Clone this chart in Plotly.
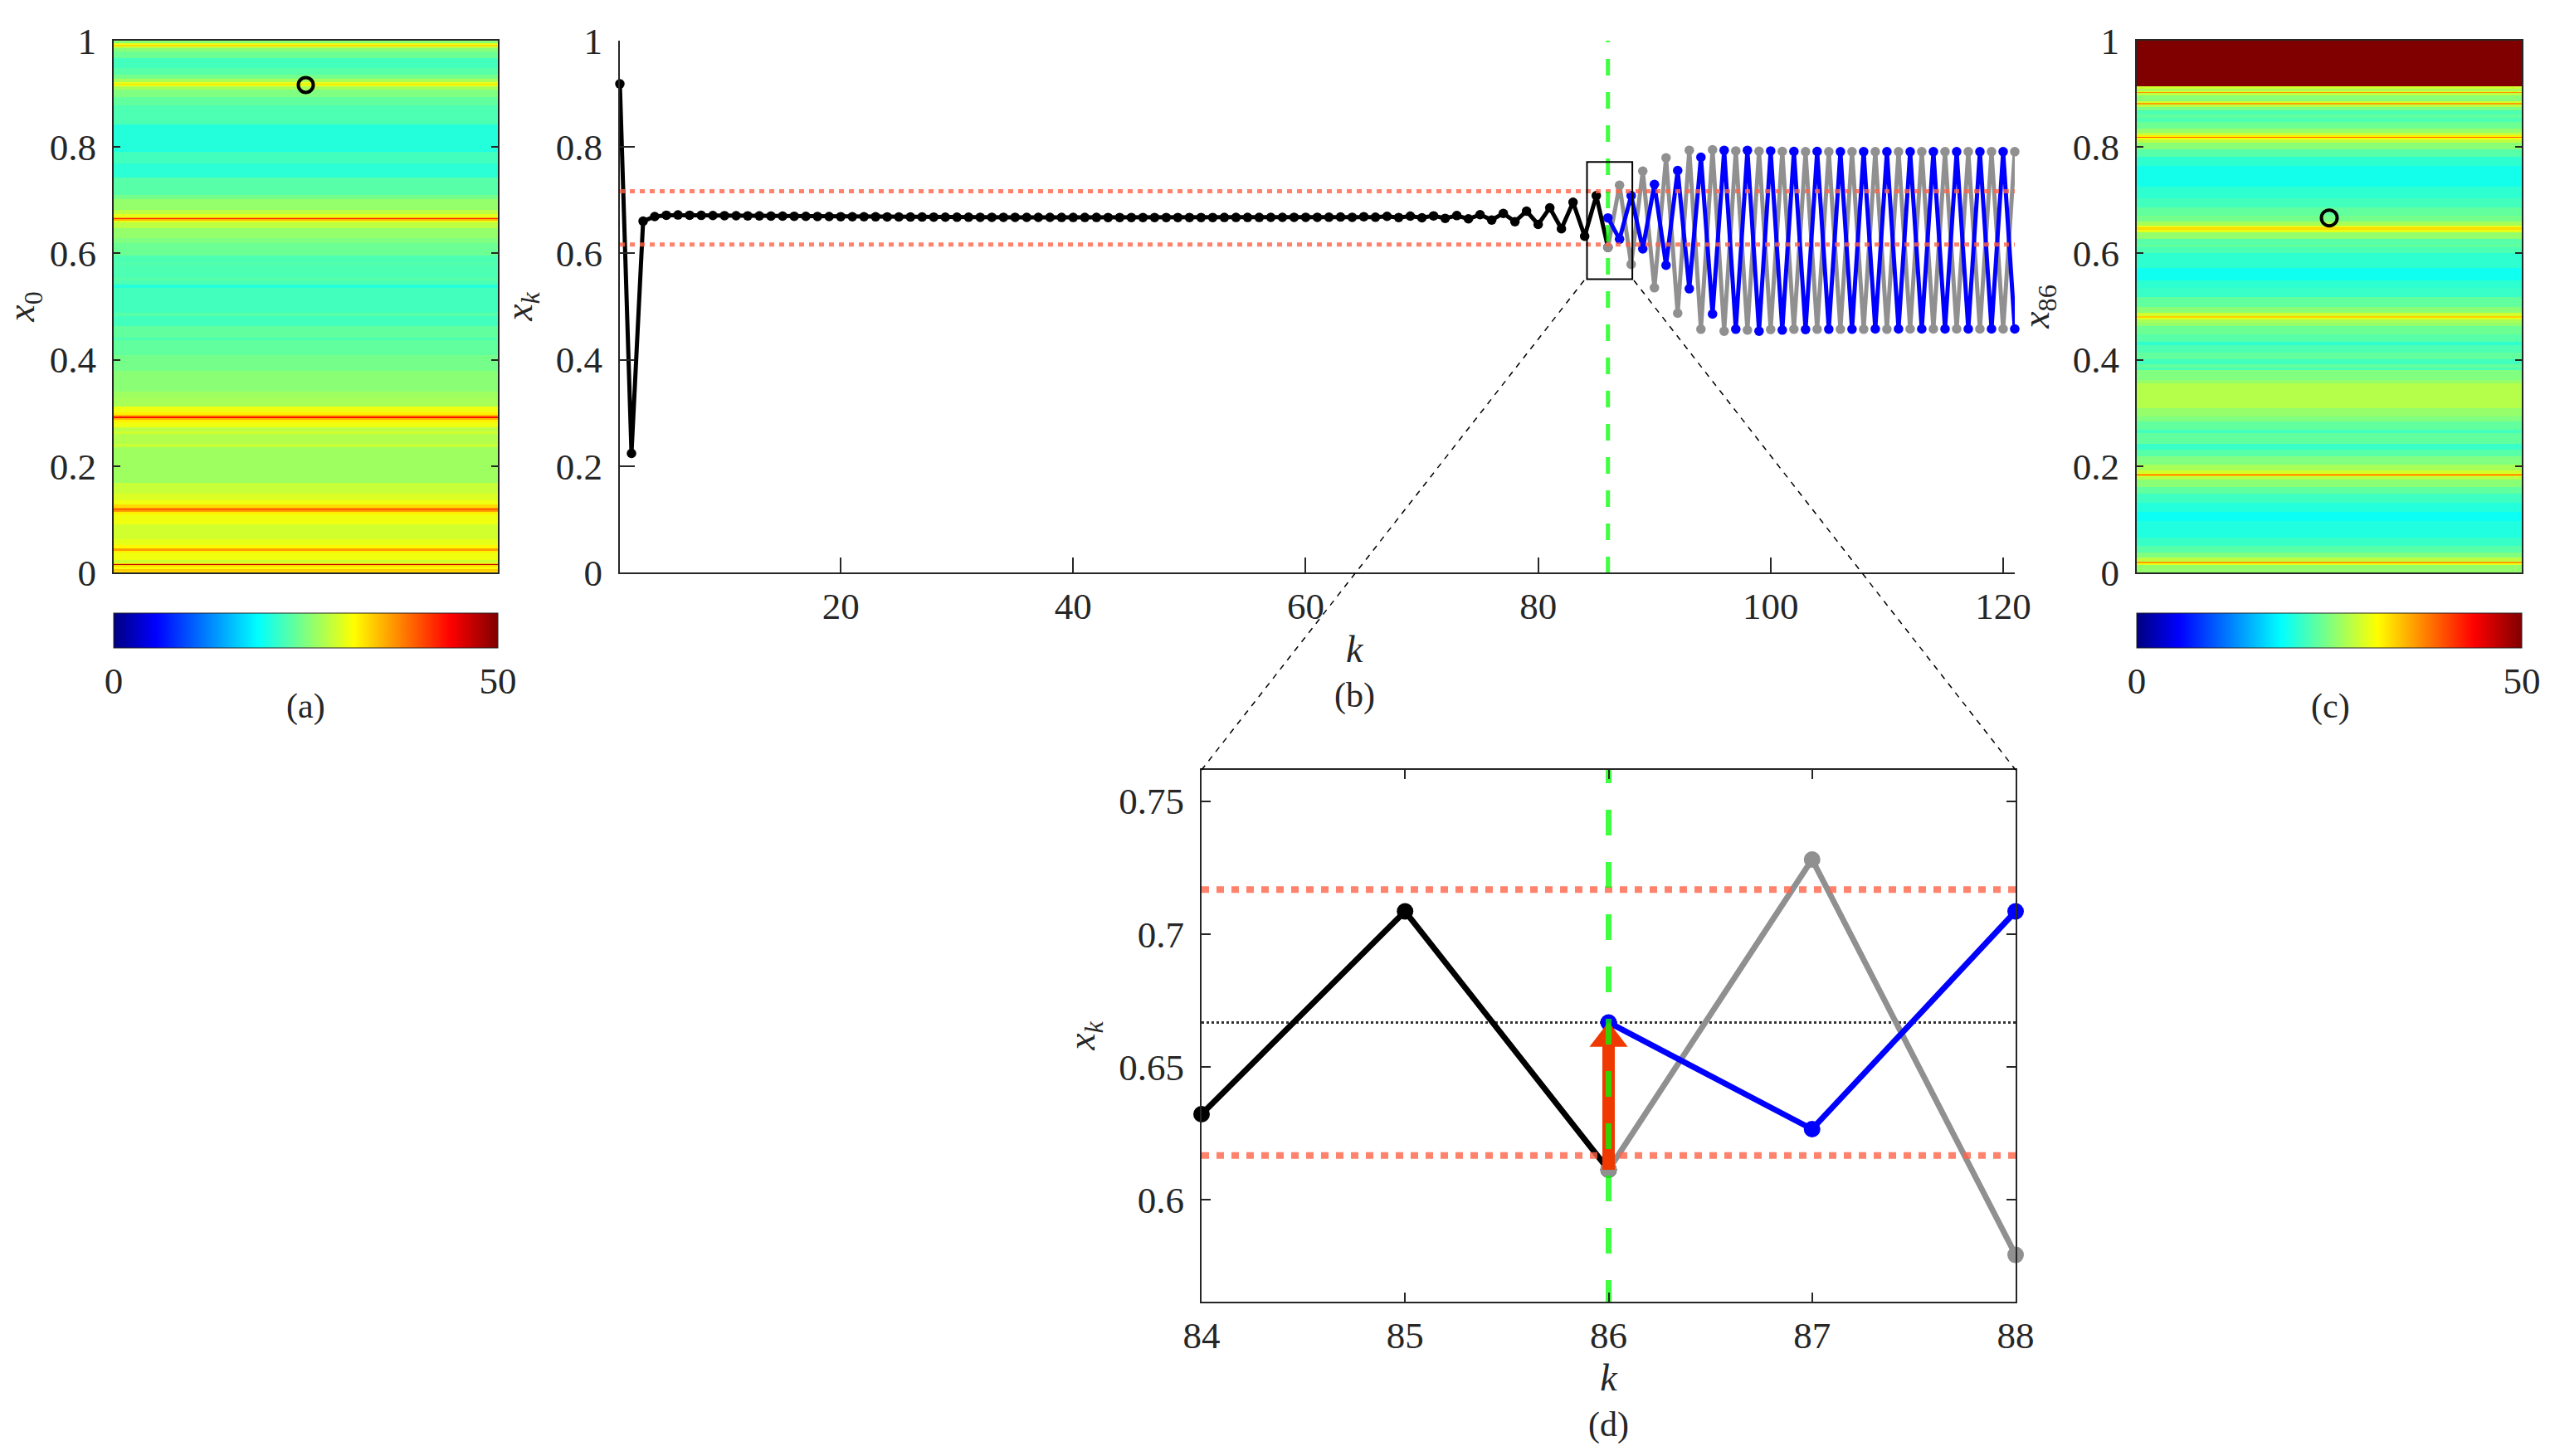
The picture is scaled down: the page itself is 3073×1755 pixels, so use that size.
import plotly.graph_objects as go

# Figure size in pixels
W = 3073
H = 1755
FONT = "Liberation Serif"
INK = "#262626"

# Series of the iteration x_k
k_black = list(range(1, 87))
x_black = [.9187, .2239, .6606, .6693, .6717, .6722, .6717, .6715, .6712, .671,
           .6708, .6706, .6704, .6702, .67, .6698, .6696, .6694, .6692, .669,
           .6689, .6688, .6687, .6686, .6685, .6684, .6683, .6682, .6681, .668,
           .668, .6679, .6679, .6678, .6678, .6677, .6677, .6677, .6676, .6676,
           .6676, .6676, .6675, .6675, .6675, .6675, .6675, .6675, .6675, .6675,
           .6675, .6675, .6676, .6676, .6676, .6676, .6677, .6677, .6678, .6678,
           .6679, .668, .6683, .6678, .669, .668, .6696, .6675, .6701, .667,
           .6706, .6659, .6711, .6649, .6727, .6628, .6752, .6597, .6794, .6545,
           .6856, .6462, .696, .6322, .7085, .6113]
k_after = list(range(86, 122))
x_blue = [.6667, .6266, .7085, .6084, .7297, .5776, .7558, .5334, .7808, .486,
          .7938, .4573, .7938, .4537, .7927, .4558, .7917, .4568, .7917, .4573,
          .7912, .4573, .7912, .4578, .7912, .4578, .7912, .4578, .7912, .4578,
          .7912, .4578, .7912, .4578, .7912, .4578]
x_gray = [.6113, .728, .5793, .7547, .5354, .7797, .4875, .7938, .4573, .7948,
          .4537, .7927, .4558, .7922, .4568, .7917, .4573, .7912, .4573, .7912,
          .4573, .7912, .4573, .7912, .4573, .7912, .4578, .7912, .4578, .7912,
          .4578, .7912, .4578, .7912, .4578, .7912]
band_hi = .7167
band_lo = .6167
x_fixed = .6667
k_switch = 86
x0_point = .9167
x86_point = .6667

# Panel (a): each band runs from the previous floor down to its own floor
a_floor = [.9948, .9917, .9896, .9865, .9802, .9672, .9490, .9360, .9282, .9220,
           .9189, .9168, .9137, .9074, .8944, .8788, .8424, .7930, .7904, .7696,
           .7420, .7098, .7020, .6812, .6734, .6682, .6666, .6645, .6619, .6578,
           .6474, .6292, .6188, .6006, .5954, .5824, .5783, .5538, .5486, .5418,
           .5356, .4888, .4820, .4638, .4420, .4368, .4092, .3796, .3406, .3276,
           .3120, .3016, .2964, .2938, .2902, .2870, .2818, .2730, .2652, .2610,
           .2418, .2350, .1690, .1482, .1352, .1274, .1222, .1196, .1165, .1134,
           .1092, .0910, .0624, .0520, .0458, .0406, .0374, .0234, .0166, .0151,
           .0135, .0104, .0062, .0026, 0]
a_z = [25.5, 30, 33, 28, 25.5, 24, 22, 23, 24.5, 27,
       30, 33, 30, 27, 25, 23.5, 22.5, 20.5, 20, 22,
       20.8, 23, 24.5, 26, 28, 30, 35, 42, 35, 30,
       28, 26, 25, 24, 24, 22.5, 23, 22.5, 23, 22.5,
       20.5, 22, 23, 22, 23.5, 22.5, 23.5, 24.5, 25.5, 26.5,
       27, 30.5, 32, 35, 43, 35, 32, 30.5, 28, 29,
       27.5, 28.5, 26.5, 28.5, 29.5, 30.5, 33, 36, 39, 36,
       32, 30.5, 29, 30, 31.5, 36, 32, 30.5, 29, 34,
       47, 33, 31, 34, 33]

# Panel (c): same layout as panel (a)
c_floor = [.9142, .9101, .9048, .9033, .9012, .8970, .8856, .8825, .8794, .8752,
           .8684, .8617, .8554, .8476, .8346, .8268, .8216, .8195, .8174, .8148,
           .8086, .7956, .7816, .7644, .7254, .7036, .6864, .6708, .6604, .6526,
           .6485, .6443, .6401, .6266, .6152, .6136, .6006, .5720, .5497, .5356,
           .5174, .4992, .4878, .4826, .4784, .4753, .4691, .4628, .4472, .4342,
           .4280, .4134, .4014, .3910, .3848, .3807, .3614, .3562, .3094, .2938,
           .2834, .2678, .2616, .2418, .2314, .2184, .2028, .1924, .1862, .1841,
           .1825, .1804, .1742, .1612, .1482, .1310, .1144, .0962, .0650, .0494,
           .0374, .0286, .0208, .0166, .0146, 0]
c_z = [50, 29, 27, 30, 36.5, 28, 25.5, 29, 36, 28,
       25, 22.5, 23.5, 22.5, 24, 26, 28.5, 32, 39, 31,
       28, 25.5, 23, 21, 19.7, 21, 22, 23.5, 24.5, 27,
       30, 33, 30, 26, 23, 25, 22.5, 21, 19.5, 21,
       21.5, 23.5, 25.5, 29, 33.5, 30, 27, 26, 24, 23,
       21, 22.5, 23.5, 22, 23.5, 22.5, 25, 26, 27.6, 26,
       25, 23.5, 22, 23.5, 21.5, 23, 25, 27, 29, 32,
       42, 31, 28, 25.5, 23.5, 21.8, 20.5, 19.3, 20.3, 21.5,
       23, 25, 28, 36, 30, 26]

jet = [[0, "#000080"], [.11, "#0000ff"], [.375, "#00ffff"], [.625, "#ffff00"],
       [.875, "#ff0000"], [1, "#800000"]]


def dom_x(left, right):
    return [left / W, right / W]


def dom_y(top, bottom):
    return [1 - bottom / H, 1 - top / H]


def heat_trace(floors, z, xa, ya, left, right):
    # Edges go from 0 to 1 so the values are flipped to match
    edges = [0] + floors[::-1][1:] + [1]
    return go.Heatmap(x=[0, 1], y=edges, z=[[v] for v in z[::-1]], xaxis=xa, yaxis=ya,
                      colorscale=jet, zmin=0, zmax=50, hoverinfo="skip",
                      colorbar=dict(orientation="h", x=left / W, xanchor="left",
                                    y=1 - 739 / H, yanchor="top", xpad=0, ypad=0,
                                    lenmode="pixels", len=right - left, thickness=42,
                                    tickvals=[0, 50], ticks="", outlinecolor=INK, outlinewidth=1,
                                    tickfont=dict(family=FONT, size=45, color=INK)))


def path_trace(x, y, color, xa, ya, width, size):
    return go.Scatter(x=x, y=y, xaxis=xa, yaxis=ya, mode="lines+markers", cliponaxis=False,
                      line=dict(color=color, width=width), marker=dict(color=color, size=size))


def flat_line(x, y, color, xa, ya, width, dash):
    return go.Scatter(x=x, y=y, xaxis=xa, yaxis=ya, mode="lines",
                      line=dict(color=color, width=width, dash=dash), hoverinfo="skip")


RED = "rgba(255,99,71,0.8)"
GREEN = "rgba(0,255,0,0.75)"

fig = go.Figure()

# Panels (a) and (c): heat maps with the starting point marked
fig.add_trace(heat_trace(a_floor, a_z, "x", "y", 137, 600))
fig.add_trace(go.Scatter(x=[.5], y=[x0_point], xaxis="x", yaxis="y", mode="markers",
                         marker=dict(size=18, color="rgba(0,0,0,0)", line=dict(color="black", width=4))))
fig.add_trace(heat_trace(c_floor, c_z, "x3", "y3", 2575, 3039))
fig.add_trace(go.Scatter(x=[.5], y=[x86_point], xaxis="x3", yaxis="y3", mode="markers",
                         marker=dict(size=19, color="rgba(0,0,0,0)", line=dict(color="black", width=4))))

# Panel (b): whole run, black first so the gray point covers its last marker
fig.add_trace(path_trace(k_black, x_black, "black", "x2", "y2", 5, 11.5))
fig.add_trace(path_trace(k_after, x_gray, "#909090", "x2", "y2", 5, 11.5))
fig.add_trace(path_trace(k_after, x_blue, "#0000ff", "x2", "y2", 5, 11.5))
fig.add_trace(flat_line([1, 121], [band_hi, band_hi], RED, "x2", "y2", 5, "6px,6px"))
fig.add_trace(flat_line([1, 121], [band_lo, band_lo], RED, "x2", "y2", 5, "6px,6px"))
# The line starts above the axis so the dashes fall where the reference has them
fig.add_trace(flat_line([k_switch, k_switch], [1.028, 0], GREEN, "x2", "y2", 5, "20px,20px"))

# Panel (d): zoom on the switch at k = 86
fig.add_trace(flat_line([84, 88], [x_fixed, x_fixed], "#333333", "x4", "y4", 3, "3px,3px"))
fig.add_trace(path_trace(k_black[83:], x_black[83:], "black", "x4", "y4", 7, 20))
fig.add_trace(path_trace(k_after[:3], x_gray[:3], "#909090", "x4", "y4", 7, 20))
fig.add_trace(path_trace(k_after[:3], x_blue[:3], "#0000ff", "x4", "y4", 7, 20))
fig.add_trace(flat_line([84, 88], [band_hi, band_hi], RED, "x4", "y4", 8, "9px,9px"))
fig.add_trace(flat_line([84, 88], [band_lo, band_lo], RED, "x4", "y4", 8, "9px,9px"))
# Arrow from the black end point up to the fixed point
fig.add_trace(flat_line([k_switch, k_switch], [x_black[-1], x_fixed - .006], "#ee3a00", "x4", "y4", 15, "solid"))
fig.add_trace(go.Scatter(x=[k_switch], y=[x_fixed - .006], xaxis="x4", yaxis="y4", mode="markers",
                         marker=dict(symbol="triangle-up", size=40, color="#ee3a00")))
fig.add_trace(flat_line([k_switch, k_switch], [.7664, .5617], GREEN, "x4", "y4", 7, "31px,32px"))

tick_font = dict(family=FONT, size=45, color=INK)
title_font = dict(family=FONT, size=46, color=INK)
unit_ticks = [0, .2, .4, .6, .8, 1]
unit_text = ["0", "0.2", "0.4", "0.6", "0.8", "1"]


def y_axis(domain, anchor, title, standoff, ticklen, mirror=True, tickvals=unit_ticks, ticktext=unit_text,
           yrange=(0, 1)):
    return dict(domain=domain, anchor=anchor, range=list(yrange), tickmode="array", tickvals=tickvals,
                ticktext=ticktext, ticks="inside", ticklen=ticklen, tickwidth=2, tickcolor=INK,
                showline=True, linecolor=INK, linewidth=2, mirror="ticks" if mirror else False,
                showgrid=False, zeroline=False, tickfont=tick_font, ticklabelstandoff=10,
                title=dict(text=title, font=title_font, standoff=standoff))


def heat_x(domain, anchor):
    return dict(domain=domain, anchor=anchor, range=[0, 1], showticklabels=False, ticks="",
                showline=True, linecolor=INK, linewidth=2, mirror=True, showgrid=False, zeroline=False)


def k_axis(domain, anchor, xrange, tickvals, ticklen, mirror, title=None):
    axis = dict(domain=domain, anchor=anchor, range=xrange, tickmode="array", tickvals=tickvals,
                ticks="inside", ticklen=ticklen, tickwidth=2, tickcolor=INK,
                showline=True, linecolor=INK, linewidth=2, mirror="ticks" if mirror else False,
                showgrid=False, zeroline=False, tickfont=tick_font, ticklabelstandoff=0)
    if title:
        axis["title"] = dict(text=title, font=title_font, standoff=6)
    return axis


def note(text, x, y, size=42):
    return dict(text=text, x=x / W, y=1 - y / H, xref="paper", yref="paper", showarrow=False,
                xanchor="center", yanchor="middle", font=dict(family=FONT, size=size, color=INK))


fig.update_layout(
    width=W,
    height=H,
    margin=dict(l=0, r=0, t=0, b=0, autoexpand=False),
    paper_bgcolor="white",
    plot_bgcolor="white",
    showlegend=False,
    xaxis=heat_x(dom_x(137, 600), "y"),
    yaxis=y_axis(dom_y(49, 690), "x", "<i>x</i><sub>0</sub>", 14, 8),
    xaxis2=k_axis(dom_x(747, 2428), "y2", [1, 121], [20, 40, 60, 80, 100, 120], 18, False),
    yaxis2=y_axis(dom_y(49, 690), "x2", "<i>x<sub>k</sub></i>", 14, 18, mirror=False),
    xaxis3=heat_x(dom_x(2575, 3039), "y3"),
    yaxis3=y_axis(dom_y(49, 690), "x3", "<i>x</i><sub>86</sub>", 14, 8),
    xaxis4=k_axis(dom_x(1448, 2429), "y4", [84, 88], [84, 85, 86, 87, 88], 11, True, title="<i>k</i>"),
    yaxis4=y_axis(dom_y(928, 1569), "x4", "<i>x<sub>k</sub></i>", 14, 11, tickvals=[.6, .65, .7, .75],
                  ticktext=["0.6", "0.65", "0.7", "0.75"], yrange=(.5617, .7617)),
    annotations=[note("<i>k</i>", 1633, 782, 46), note("(a)", 368, 851), note("(b)", 1633, 839),
                 note("(c)", 2808, 851), note("(d)", 1938, 1717)],
    shapes=[
        # Box around the zoomed region of panel (b)
        dict(type="rect", xref="x2", yref="y2", x0=84.2, x1=88.1, y0=.5516, y1=.772,
             line=dict(color="black", width=2)),
        # Lines from that box down to panel (d)
        dict(type="line", xref="paper", yref="paper", x0=1909 / W, y0=1 - 338 / H, x1=1448 / W, y1=1 - 928 / H,
             line=dict(color="black", width=1.5, dash="7px,7px")),
        dict(type="line", xref="paper", yref="paper", x0=1969 / W, y0=1 - 338 / H, x1=2429 / W, y1=1 - 928 / H,
             line=dict(color="black", width=1.5, dash="7px,7px")),
    ],
)

fig.write_html("out.html", config=dict(displayModeBar=False),
               post_script="document.body.style.margin='0';document.body.style.overflow='hidden';")
